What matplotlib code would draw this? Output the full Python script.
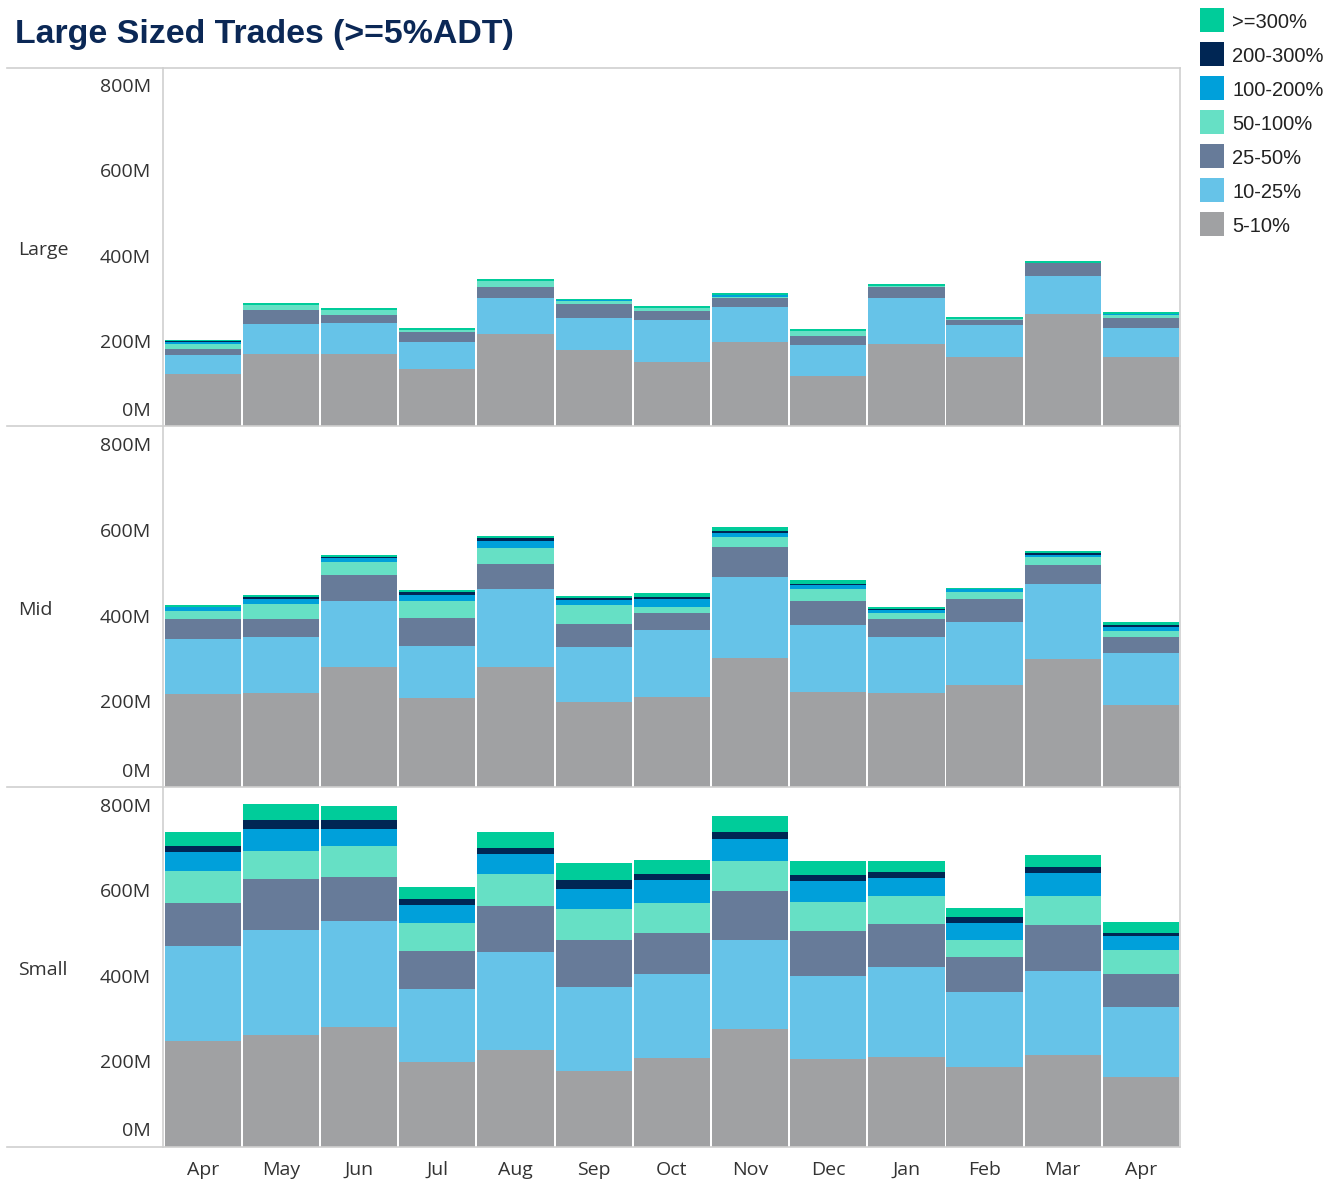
import matplotlib
matplotlib.use("Agg")
import matplotlib.pyplot as plt
from matplotlib.lines import Line2D
from matplotlib.patches import Rectangle
import numpy as np

# data (values in millions)
months = ["Apr", "May", "Jun", "Jul", "Aug", "Sep", "Oct", "Nov", "Dec", "Jan", "Feb", "Mar", "Apr"]
bands = ["5-10%", "10-25%", "25-50%", "50-100%", "100-200%", "200-300%", ">=300%"]
band_colors = ["#A0A1A3", "#66C3E8", "#677B99", "#66E0C5", "#00A0DA", "#002654", "#00CC9A"]
segments = ["Large", "Mid", "Small"]
ytick_vals = [0, 200, 400, 600, 800]
ytick_labels = ["0M", "200M", "400M", "600M", "800M"]

large_5_10 = [124, 169, 171, 134, 216, 180, 152, 199, 119, 194, 163, 263, 163]
large_10_25 = [44, 70, 72, 65, 86, 75, 98, 80, 73, 106, 75, 89, 68]
large_25_50 = [14, 33, 19, 22, 26, 31, 21, 22, 19, 28, 12, 30, 24]
large_50_100 = [12, 12, 10, 4, 12, 9, 7, 2, 12, 1, 1, 1, 7]
large_100_200 = [5, 0.5, 0.5, 0.5, 0.5, 0.5, 0.5, 4, 0.5, 0.5, 0.5, 0.5, 0.5]
large_200_300 = [0.5, 0.3, 0.3, 0.3, 0.3, 0.3, 0.3, 0.3, 0.3, 0.3, 0.2, 0.2, 0.3]
large_300 = [4, 4, 4, 4, 4, 4, 4, 5, 4.5, 4, 4, 5, 5]

mid_5_10 = [216, 220, 279, 208, 279, 199, 210, 302, 222, 220, 238, 299, 191]
mid_10_25 = [130, 131, 154, 122, 182, 128, 157, 187, 157, 131, 148, 174, 122]
mid_25_50 = [45, 42, 61, 65, 59, 54, 40, 71, 54, 40, 52, 45, 38]
mid_50_100 = [19, 33, 31, 38, 38, 44, 14, 23, 28, 14, 16, 18, 14]
mid_100_200 = [9, 12, 9, 16, 16, 12, 17, 9, 10, 9, 7, 5, 9]
mid_200_300 = [2, 5, 3, 5, 7, 5, 5, 5, 3, 0.5, 0.5, 5, 5]
mid_300 = [4, 4, 4, 5, 5, 4, 9, 9, 9, 5, 4, 4, 5]

small_5_10 = [248, 262, 279, 199, 226, 177, 208, 276, 205, 210, 187, 215, 163]
small_10_25 = [221, 246, 250, 171, 230, 197, 197, 209, 195, 211, 176, 197, 164]
small_25_50 = [101, 118, 103, 87, 108, 110, 96, 113, 106, 101, 80, 106, 78]
small_50_100 = [75, 66, 73, 66, 75, 73, 70, 70, 66, 66, 42, 68, 56]
small_100_200 = [45, 52, 38, 42, 47, 47, 54, 52, 49, 40, 38, 54, 33]
small_200_300 = [14, 21, 21, 16, 14, 21, 14, 16, 16, 16, 14, 16, 7]
small_300 = [33, 38, 33, 28, 38, 40, 33, 38, 33, 26, 21, 28, 26]

panel_data = {
    "Large": [large_5_10, large_10_25, large_25_50, large_50_100, large_100_200, large_200_300, large_300],
    "Mid": [mid_5_10, mid_10_25, mid_25_50, mid_50_100, mid_100_200, mid_200_300, mid_300],
    "Small": [small_5_10, small_10_25, small_25_50, small_50_100, small_100_200, small_200_300, small_300],
}

plt.rcParams['font.family'] = ['Liberation Sans', 'DejaVu Sans']
axis_font = ['Open Sans', 'DejaVu Sans']

W, H = 1336, 1184
fig = plt.figure(figsize=(W / 100, H / 100), dpi=100)

text_col = "#333333"
grid_col = "#CFCFCF"
lab_size = 14

# panel pixel extents (top, bottom)
panel_px = [(68, 426.5), (427, 787), (788, 1146.5)]
x_left, x_right = 163, 1180

x = np.arange(len(months))
for seg, (top, bot) in zip(segments, panel_px):
    ax = fig.add_axes([x_left / W, 1 - bot / H, (x_right - x_left) / W, (bot - top) / H])
    bottom = np.zeros(len(months))
    for vals, col in zip(panel_data[seg], band_colors):
        ax.bar(x, vals, bottom=bottom, width=0.975, color=col, linewidth=0)
        bottom += np.array(vals)
    ax.set_xlim(-0.51, 12.5)
    ax.set_ylim(0, 840)
    # 0M label sits above the baseline, the rest are centred on their ticks
    ax.set_yticks(ytick_vals)
    ax.set_yticklabels([""] + ytick_labels[1:], family=axis_font)
    ax.tick_params(axis='y', length=0, pad=8.5, labelsize=lab_size, labelcolor=text_col)
    ax.annotate(ytick_labels[0], xy=(0, ytick_vals[0]), xycoords=('axes fraction', 'data'),
                xytext=(-8.5, 4.5), textcoords='offset points', ha='right', va='bottom',
                fontsize=lab_size, color=text_col, family=axis_font)
    for s in ["top", "bottom"]:
        ax.spines[s].set_visible(False)
    for s in ["left", "right"]:
        ax.spines[s].set_color(grid_col)
        ax.spines[s].set_linewidth(1.2)
    if seg == "Small":
        ax.set_xticks(x)
        ax.set_xticklabels(months, family=axis_font)
        ax.tick_params(axis='x', length=0, pad=10.5, labelsize=lab_size, labelcolor=text_col)
    else:
        ax.set_xticks([])
    fig.text(18 / W, 1 - ((top + bot) / 2 + 3) / H, seg, fontsize=lab_size, color=text_col,
             ha='left', va='center', family=axis_font)

# horizontal separators spanning the row header
for yy in [68, 426.5, 787, 1146.5]:
    fig.add_artist(Line2D([7 / W, x_right / W], [1 - yy / H, 1 - yy / H],
                          color=grid_col, linewidth=1.2))

# title
fig.text(15 / W, 1 - 35 / H, "Large Sized Trades (>=5%ADT)", fontsize=24.4, fontweight='bold',
         color="#0B2856", ha='left', va='center')

# legend (top to bottom: >=300% ... 5-10%)
for i, (lab, col) in enumerate(zip(bands[::-1], band_colors[::-1])):
    yc = 20 + i * 34
    fig.add_artist(Rectangle((1200 / W, 1 - (yc + 12) / H), 24 / W, 24 / H,
                             transform=fig.transFigure, color=col, linewidth=0))
    fig.text(1232 / W, 1 - (yc + 2) / H, lab, fontsize=14.5, color="#222222", ha='left', va='center')

plt.savefig("out.png", dpi=100)
